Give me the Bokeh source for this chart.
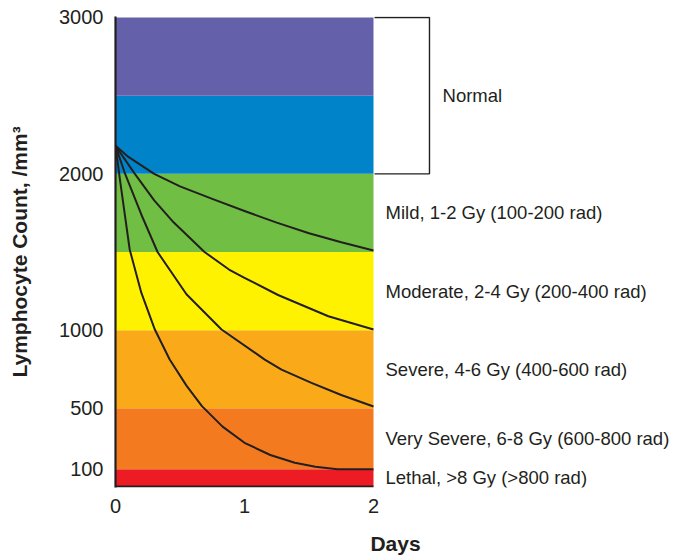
import numpy as np
from bokeh.plotting import figure
from bokeh.models import Range1d, FixedTicker, ColumnDataSource
from bokeh.core.properties import value
from bokeh.embed import file_html
from bokeh.resources import INLINE

# ---------------- data ----------------
day_ticks = [0, 1, 2]
count_ticks = [100, 500, 1000, 2000, 3000]

band_low = [0, 100, 500, 1000, 1500, 2000, 2500]
band_high = [100, 500, 1000, 1500, 2000, 2500, 3000]
band_colors = ["#ED1C24", "#F47A20", "#FAAA19", "#FFF200", "#70BF44", "#0083C9", "#6460AA"]

severity_labels = [
    "Lethal, >8 Gy (>800 rad)",
    "Very Severe, 6-8 Gy (600-800 rad)",
    "Severe, 4-6 Gy (400-600 rad)",
    "Moderate, 2-4 Gy (200-400 rad)",
    "Mild, 1-2 Gy (100-200 rad)",
]
severity_low = [0, 100, 500, 1000, 1500]
severity_high = [100, 500, 1000, 1500, 2000]
normal_label = "Normal"
normal_low, normal_high = 2000, 3000

mild_days = [0, 0.1, 0.3, 0.5, 0.75, 1.0, 1.25, 1.5, 1.75, 2.0]
mild_counts = [2180, 2108, 2000, 1920, 1840, 1762, 1688, 1620, 1562, 1510]

moderate_days = [0, 0.15, 0.3, 0.45, 0.69, 0.88, 1.0, 1.26, 1.65, 2.0]
moderate_counts = [2180, 2000, 1830, 1690, 1500, 1388, 1335, 1225, 1089, 1004]

severe_days = [0, 0.07, 0.2, 0.326, 0.55, 0.822, 1.157, 1.287, 1.519, 1.75, 2.0]
severe_counts = [2180, 2010, 1740, 1500, 1230, 1004, 812, 748, 663, 585, 512]

lethal_days = [0, 0.035, 0.11, 0.2, 0.305, 0.42, 0.55, 0.67, 0.83, 1.0, 1.2, 1.39, 1.55, 1.72, 2.0]
lethal_counts = [2180, 1960, 1516, 1240, 1004, 812, 645, 514, 380, 274, 194, 143, 117, 100, 100]

# piecewise (non-linear) count axis used by the original chart
scale_counts = [0, 100, 500, 1000, 1500, 2000, 2500, 3000]
scale_units = [0, 0.22, 1, 2, 3, 4, 5, 6]


def to_axis(c):
    return np.interp(np.asarray(c, dtype=float), scale_counts, scale_units)


INK = "#231F20"
FONT = "Liberation Sans"

W, H = 675, 557
LEFT, TOP, BOTTOM = 115, 16, 487
px_per_day = 129.0
px_per_unit = 78.17

p = figure(
    width=W, height=H, output_backend="svg", toolbar_location=None,
    x_range=Range1d(0, (W - LEFT) / px_per_day),
    y_range=Range1d(-1 / px_per_unit, 6 + 1 / px_per_unit),
    min_border_left=LEFT, min_border_top=TOP, min_border_right=0,
    min_border_bottom=H - BOTTOM,
)
p.outline_line_color = None
p.xgrid.visible = False
p.ygrid.visible = False
p.background_fill_color = "white"
p.border_fill_color = "white"

# bands
band_src = ColumnDataSource(dict(
    bottom=to_axis(band_low), top=to_axis(band_high),
    left=[0] * len(band_low), right=[2] * len(band_low), color=band_colors,
))
p.quad(left="left", right="right", bottom="bottom", top="top", fill_color="color",
       line_color=None, source=band_src)

# curves
for d, c in [(mild_days, mild_counts), (moderate_days, moderate_counts),
             (severe_days, severe_counts), (lethal_days, lethal_counts)]:
    p.line(d, to_axis(c), line_color=INK, line_width=2, line_join="round")

# bottom axis line (only under the chart area)
p.segment(x0=[0], y0=[0], x1=[2], y1=[0], line_color=INK, line_width=2.2)

# severity labels
lab_src = ColumnDataSource(dict(
    x=[2.093] * len(severity_labels),
    y=(to_axis(severity_low) + to_axis(severity_high)) / 2,
    text=severity_labels,
))
p.text(x="x", y="y", text="text", source=lab_src, text_font=value(FONT),
       text_font_size="18.5px", text_color=INK, text_baseline="middle", text_align="left")

# Normal bracket
ny_top = float(to_axis(normal_high))
ny_bot = float(to_axis(normal_low))
p.line([2.008, 2.434, 2.434, 2.008], [ny_top, ny_top, ny_bot, ny_bot],
       line_color=INK, line_width=1.4)
p.text(x=[2.535], y=[(ny_top + ny_bot) / 2], text=[normal_label], text_font=value(FONT),
       text_font_size="18.5px", text_color=INK, text_baseline="middle", text_align="left")

# axes
xa = p.xaxis[0]
xa.ticker = FixedTicker(ticks=day_ticks)
xa.axis_line_color = None
xa.major_tick_line_color = None
xa.minor_tick_line_color = None
xa.major_label_standoff = 5
xa.major_label_text_font = FONT
xa.major_label_text_font_size = "20px"
xa.major_label_text_color = INK
xa.axis_label = "Days"
xa.axis_label_text_font = FONT
xa.axis_label_text_font_style = "bold"
xa.axis_label_text_font_size = "21px"
xa.axis_label_text_color = INK
xa.axis_label_standoff = 16

ya = p.yaxis[0]
tick_pos = [float(v) for v in to_axis(count_ticks)]
ya.ticker = FixedTicker(ticks=tick_pos)
ya.major_label_overrides = {tp: str(c) for tp, c in zip(tick_pos, count_ticks)}
ya.axis_line_color = INK
ya.axis_line_width = 2.2
ya.major_tick_line_color = None
ya.minor_tick_line_color = None
ya.major_label_standoff = 6
ya.major_label_text_font = FONT
ya.major_label_text_font_size = "20px"
ya.major_label_text_color = INK
ya.axis_label = "Lymphocyte Count, /mm\u00b3"
ya.axis_label_text_font = FONT
ya.axis_label_text_font_style = "bold"
ya.axis_label_text_font_size = "21px"
ya.axis_label_text_color = INK
ya.axis_label_standoff = 25

open("out.html", "w").write(file_html(p, INLINE))
